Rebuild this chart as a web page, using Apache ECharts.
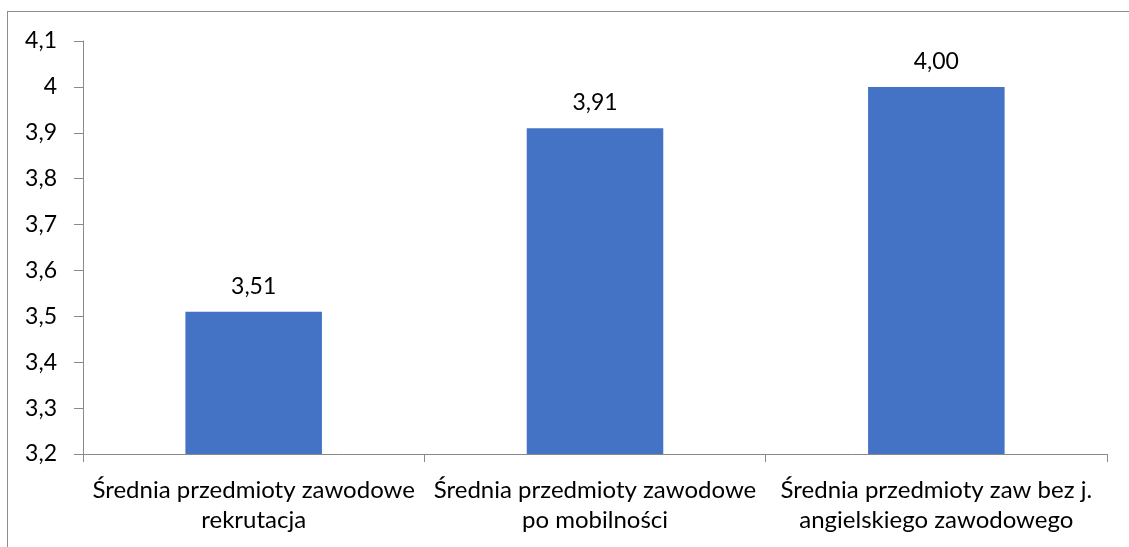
<!DOCTYPE html>
<html lang="pl">
<head>
  <meta charset="UTF-8">
  <title>Średnia przedmioty zawodowe</title>
  <style>
    html, body { margin: 0; padding: 0; background: #fff; overflow: hidden; }
    .frame { position: absolute; left: 7px; top: 11px; width: 1140px; height: 560px; border: 1px solid #8c8c8c; }
    #main { position: absolute; left: 0; top: 0; width: 1129px; height: 547px; }
  </style>
</head>
<body>
<div class="frame"></div>
<div id="main"></div>
<script src="https://cdn.jsdelivr.net/npm/echarts@6/dist/echarts.min.js"></script>
<script>
// dane
var categories = [
  'Średnia przedmioty zawodowe\nrekrutacja',
  'Średnia przedmioty zawodowe\npo mobilności',
  'Średnia przedmioty zaw bez j.\nangielskiego zawodowego'
];
var values = [3.51, 3.91, 4.00];
var yMin = 3.2, yMax = 4.1, yStep = 0.1;

var font = 'Lato, "Noto Sans", sans-serif';
var axisGray = '#898989';

function comma(v, digits) {
  var s = digits == null ? String(Math.round(v * 10) / 10) : v.toFixed(digits);
  return s.replace('.', ',');
}

var myChart = echarts.init(document.getElementById('main'));
var option = {
  animation: false,
  grid: { left: 83, right: 22, top: 41, bottom: 93 },
  xAxis: {
    type: 'category',
    data: categories,
    axisLine: { lineStyle: { color: axisGray, width: 1 } },
    axisTick: { show: true, length: 8, interval: 0, lineStyle: { color: axisGray } },
    axisLabel: {
      interval: 0, margin: 21, color: '#000',
      fontFamily: font, fontSize: 24, lineHeight: 30
    }
  },
  yAxis: {
    type: 'value',
    min: yMin, max: yMax, interval: yStep,
    splitLine: { show: false },
    axisLine: { show: true, lineStyle: { color: axisGray, width: 1 } },
    axisTick: { show: true, length: 9, lineStyle: { color: axisGray } },
    axisLabel: {
      margin: 26, color: '#000', fontFamily: font, fontSize: 23,
      formatter: function (v) { return comma(v); }
    }
  },
  series: [{
    type: 'bar',
    data: values,
    barWidth: '40%',
    itemStyle: { color: '#4472C4' },
    label: {
      show: true, position: 'top', distance: 14,
      color: '#000', fontFamily: font, fontSize: 23,
      formatter: function (p) { return comma(p.value, 2); }
    }
  }]
};
myChart.setOption(option);
</script>
</body>
</html>
